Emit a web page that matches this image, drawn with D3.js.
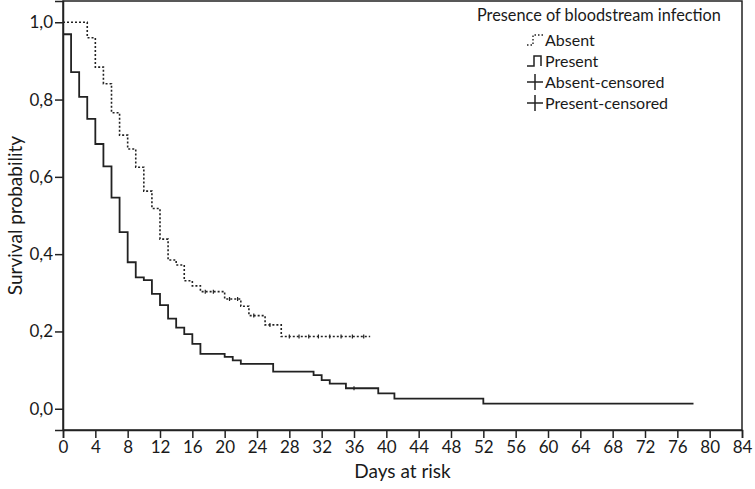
<!DOCTYPE html>
<html><head><meta charset="utf-8">
<script src="https://cdn.jsdelivr.net/npm/d3@7"></script>
<style>
body{margin:0;background:#fff;}
text{font-family:Lato, "Open Sans", sans-serif;fill:#1a1a1a;}
</style></head>
<body><svg id="chart" width="755" height="489"></svg>
<script>
const xTicks = [0,4,8,12,16,20,24,28,32,36,40,44,48,52,56,60,64,68,72,76,80,84];
const yTicks = [0,0.2,0.4,0.6,0.8,1.0];

const timesAbsent = [0,3,4,5,6,7,8,9,10,11,12,13,14,15,16,17,20,22,23,25,27];
const survAbsent  = [1.0,0.960,0.884,0.841,0.766,0.708,0.672,0.625,0.563,0.518,0.439,0.385,0.372,0.331,0.318,0.303,0.284,0.265,0.241,0.217,0.187];
const endAbsent = 38;
const censorAbsent = [17.6,18.6,20.6,21.6,23.6,25.6,28,29.2,30.4,31.6,33,34.4,35.8,37.2];

const timesPresent = [0,1,2,3,4,5,6,7,8,9,10,11,12,13,14,15,16,17,20,21,22,26,31,32,33,35,39,41,52];
const survPresent  = [0.969,0.871,0.807,0.750,0.685,0.627,0.546,0.457,0.379,0.340,0.333,0.297,0.268,0.233,0.210,0.193,0.168,0.142,0.134,0.125,0.116,0.096,0.087,0.074,0.065,0.053,0.040,0.026,0.013];
const endPresent = 78;
const censorPresent = [36];

const legendTitle = "Presence of bloodstream infection";
const legendLabels = ["Absent","Present","Absent-censored","Present-censored"];

const svg = d3.select("#chart");
const L=63, R=742, T=1, B=430;
const x = d3.scaleLinear().domain([0,84]).range([L,R]);
const y = d3.scaleLinear().domain([-0.055,1.055]).range([B,T]);
const fmt = v => d3.format(".1f")(v).replace(".", ",");

// frame
svg.append("rect").attr("x",L).attr("y",T).attr("width",R-L).attr("height",B-T)
  .attr("fill","none").attr("stroke","#222").attr("stroke-width",1.5);

// axes
const xa = svg.append("g").attr("transform",`translate(0,${B})`)
  .call(d3.axisBottom(x).tickValues(xTicks).tickSize(8).tickPadding(3).tickFormat(d3.format("d")));
const ya = svg.append("g").attr("transform",`translate(${L},0)`)
  .call(d3.axisLeft(y).tickValues(yTicks).tickSize(8).tickPadding(2).tickFormat(fmt));
[xa,ya].forEach(g=>{
  g.select(".domain").attr("stroke","#222").attr("stroke-width",1.5);
  g.selectAll(".tick line").attr("stroke","#222").attr("stroke-width",1.5);
  g.selectAll(".tick text").attr("font-size",17).attr("fill","#1a1a1a").style("font-family","Lato");
});

// axis titles
svg.append("text").attr("x",(L+R)/2).attr("y",478).attr("text-anchor","middle")
  .attr("font-size",19).text("Days at risk");
svg.append("text").attr("transform",`translate(22,${(T+B)/2}) rotate(-90)`)
  .attr("text-anchor","middle").attr("font-size",19).text("Survival probability");

function stepData(times, surv, end){
  const pts = times.map((t,i)=>[t,surv[i]]);
  pts.push([end, surv[surv.length-1]]);
  return pts;
}
function survAt(times,surv,t){
  let v=surv[0];
  for(let i=0;i<times.length;i++){ if(times[i]<=t) v=surv[i]; }
  return v;
}
const line = d3.line().x(d=>x(d[0])).y(d=>y(d[1])).curve(d3.curveStepAfter);

svg.append("path").datum(stepData(timesAbsent,survAbsent,endAbsent))
  .attr("d",line).attr("fill","none").attr("stroke","#222").attr("stroke-width",1.6)
  .attr("stroke-dasharray","2,2");
svg.append("path").datum(stepData(timesPresent,survPresent,endPresent))
  .attr("d",line).attr("fill","none").attr("stroke","#222").attr("stroke-width",1.8);

// censor marks
svg.selectAll(".ca").data(censorAbsent).enter().append("line")
  .attr("x1",d=>x(d)).attr("x2",d=>x(d))
  .attr("y1",d=>y(survAt(timesAbsent,survAbsent,d))-2)
  .attr("y2",d=>y(survAt(timesAbsent,survAbsent,d))+2)
  .attr("stroke","#222").attr("stroke-width",1.2);
svg.selectAll(".cp").data(censorPresent).enter().append("line")
  .attr("x1",d=>x(d)).attr("x2",d=>x(d))
  .attr("y1",d=>y(survAt(timesPresent,survPresent,d))-2)
  .attr("y2",d=>y(survAt(timesPresent,survPresent,d))+2)
  .attr("stroke","#222").attr("stroke-width",1.2);

// legend
svg.append("text").attr("x",477).attr("y",21).attr("font-size",16.3).text(legendTitle);
const ly = [40,61,82,103];
legendLabels.forEach((lab,i)=>{
  svg.append("text").attr("x",545).attr("y",ly[i]+5.5).attr("font-size",16).text(lab);
});
// Absent symbol: dotted step
svg.append("path").attr("d",`M527,${ly[0]+5} L533,${ly[0]+5} L533,${ly[0]-5} L544,${ly[0]-5}`)
  .attr("fill","none").attr("stroke","#222").attr("stroke-width",1.4).attr("stroke-dasharray","1.5,2");
// Present symbol: solid step
svg.append("path").attr("d",`M527,${ly[1]+5} L534,${ly[1]+5} L534,${ly[1]-5} L541,${ly[1]-5} L541,${ly[1]+5}`)
  .attr("fill","none").attr("stroke","#222").attr("stroke-width",1.5);
// crosses
[2,3].forEach(i=>{
  svg.append("line").attr("x1",527).attr("x2",543).attr("y1",ly[i]).attr("y2",ly[i]).attr("stroke","#222").attr("stroke-width",1.5);
  svg.append("line").attr("x1",535).attr("x2",535).attr("y1",ly[i]-8).attr("y2",ly[i]+8).attr("stroke","#222").attr("stroke-width",1.5);
});
</script></body></html>
